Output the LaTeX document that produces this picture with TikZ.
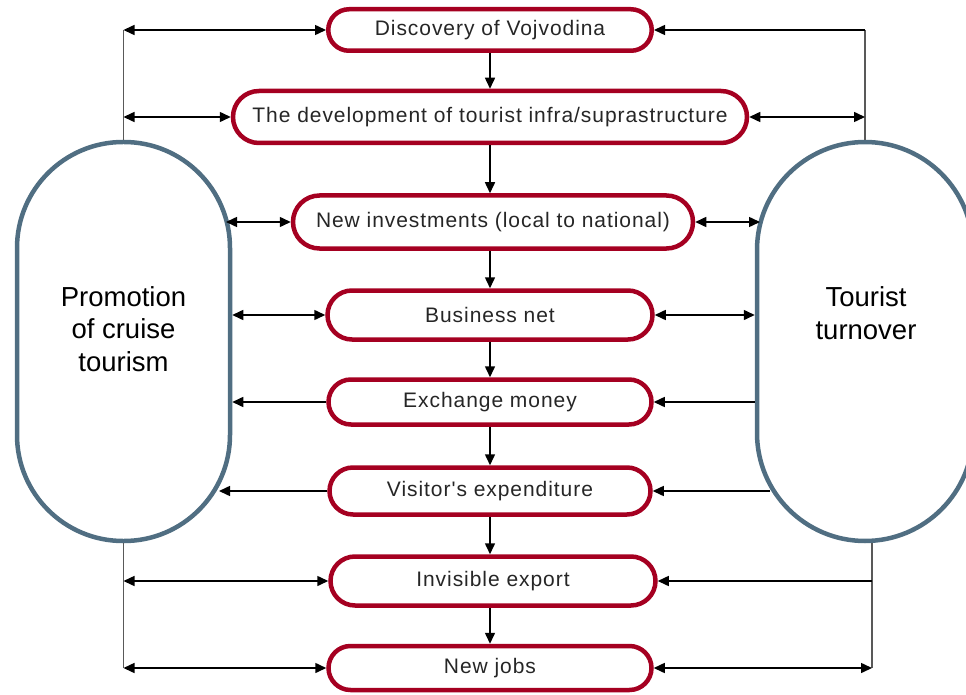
\documentclass[tikz,border=0pt]{standalone}
\usepackage{fontspec}
\setmainfont{Liberation Sans}
\newfontfamily\boxfont[LetterSpace=4.5]{Liberation Sans}
\usetikzlibrary{arrows.meta,shapes.misc,positioning}
\definecolor{boxred}{RGB}{165,0,33}
\definecolor{pillblue}{RGB}{80,110,130}
\tikzset {
    stepbox/.style = {rounded rectangle, draw=boxred, line width=4.5pt, fill=white, inner sep=0pt,
                      text=black!85, font=\boxfont\fontsize{21}{25}\selectfont},
    pill/.style = {rectangle, draw=pillblue, line width=4.5pt, inner sep=0pt},
    bigtext/.style = {draw=none, align=center, font=\fontsize{27.5}{32.5}\selectfont},
    bus/.style = {draw=black!65, line width=1.5pt},
    link/.style = {line width=1.5pt, black}
}

\begin{document}
\begin{tikzpicture}[x=1pt, y=-1pt, >={Triangle[length=11pt,width=10pt]}]
	\useasboundingbox (0,0) rectangle (966,695);
	\clip (0,0) rectangle (966,695);
	% the two sides
	\node[pill, rounded corners=106pt, minimum width=213pt, minimum height=399pt] (promo) at (123.5,341.5) {};
	\node[pill, rounded corners=108pt, minimum width=216pt, minimum height=399pt] (tour) at (865,341.5) {};
	\node[bigtext] (promotext) at (123.5,329) {Promotion\\of cruise\\tourism};
	\node[bigtext] (tourtext) at (866,313) {Tourist\\turnover};
	% the chain in the middle
	\node[stepbox, minimum width=323.5pt, minimum height=41.5pt] (b1) at (490,30) {Discovery of Vojvodina};
	\node[stepbox, minimum width=514pt, minimum height=52pt] (b2) at (490,117) {The development of tourist infra/suprastructure};
	\node[stepbox, minimum width=400pt, minimum height=53pt] (b3) at (493,222) {New investments (local to national)};
	\node[stepbox, minimum width=325pt, minimum height=49pt] (b4) at (490,315) {Business net};
	\node[stepbox, minimum width=323pt, minimum height=45pt] (b5) at (490,402) {Exchange money};
	\node[stepbox, minimum width=321pt, minimum height=47pt] (b6) at (490,491) {Visitor's expenditure};
	\node[stepbox, minimum width=325pt, minimum height=49pt] (b7) at (493,581) {Invisible export};
	\node[stepbox, minimum width=323pt, minimum height=44pt] (b8) at (490,668) {New jobs};
	\foreach \a/\b in {b1/b2, b2/b3, b3/b4, b4/b5, b5/b6, b6/b7, b7/b8}
		\draw[link, ->] (\a.south -| 490,0) -- (\b.north -| 490,0);
	% bus lines
	\coordinate (lt) at (123.5,30);
	\coordinate (lb) at (123.5,668);
	\coordinate (rt) at (865,30);
	\coordinate (rs) at (872,543);
	\coordinate (rb) at (872,668);
	\coordinate (pl3) at (226,222);
	\coordinate (pr3) at (760,222);
	\coordinate (pl6) at (219,491);
	\coordinate (pr6) at (770,491);
	\draw[bus] (lt) -- (promo.north);
	\draw[bus] (promo.south) -- (lb);
	\draw[bus] (rt) -- (tour.north);
	\draw[bus] (rs) -- (rb);
	% links to the sides
	\draw[link, <->] (lt) -- (b1.west);
	\draw[link, ->] (rt) -- (b1.east);
	\draw[link, <->] (b2.west -| lt) -- (b2.west);
	\draw[link, <->] (b2.east) -- (b2.east -| rt);
	\draw[link, <->] (pl3) -- (b3.west);
	\draw[link, <->] (b3.east) -- (pr3);
	\draw[link, <->] (b4.west -| promo.east) -- (b4.west);
	\draw[link, <->] (b4.east) -- (b4.east -| tour.west);
	\draw[link, ->] (b5.west) -- (b5.west -| promo.east);
	\draw[link, ->] (b5.east -| tour.west) -- (b5.east);
	\draw[link, ->] (b6.west) -- (pl6);
	\draw[link, ->] (pr6) -- (b6.east);
	\draw[link, <->] (b7.west -| lb) -- (b7.west);
	\draw[link, ->] (b7.east -| rb) -- (b7.east);
	\draw[link, <->] (lb) -- (b8.west);
	\draw[link, <->] (b8.east) -- (rb);
\end{tikzpicture}
\end{document}
